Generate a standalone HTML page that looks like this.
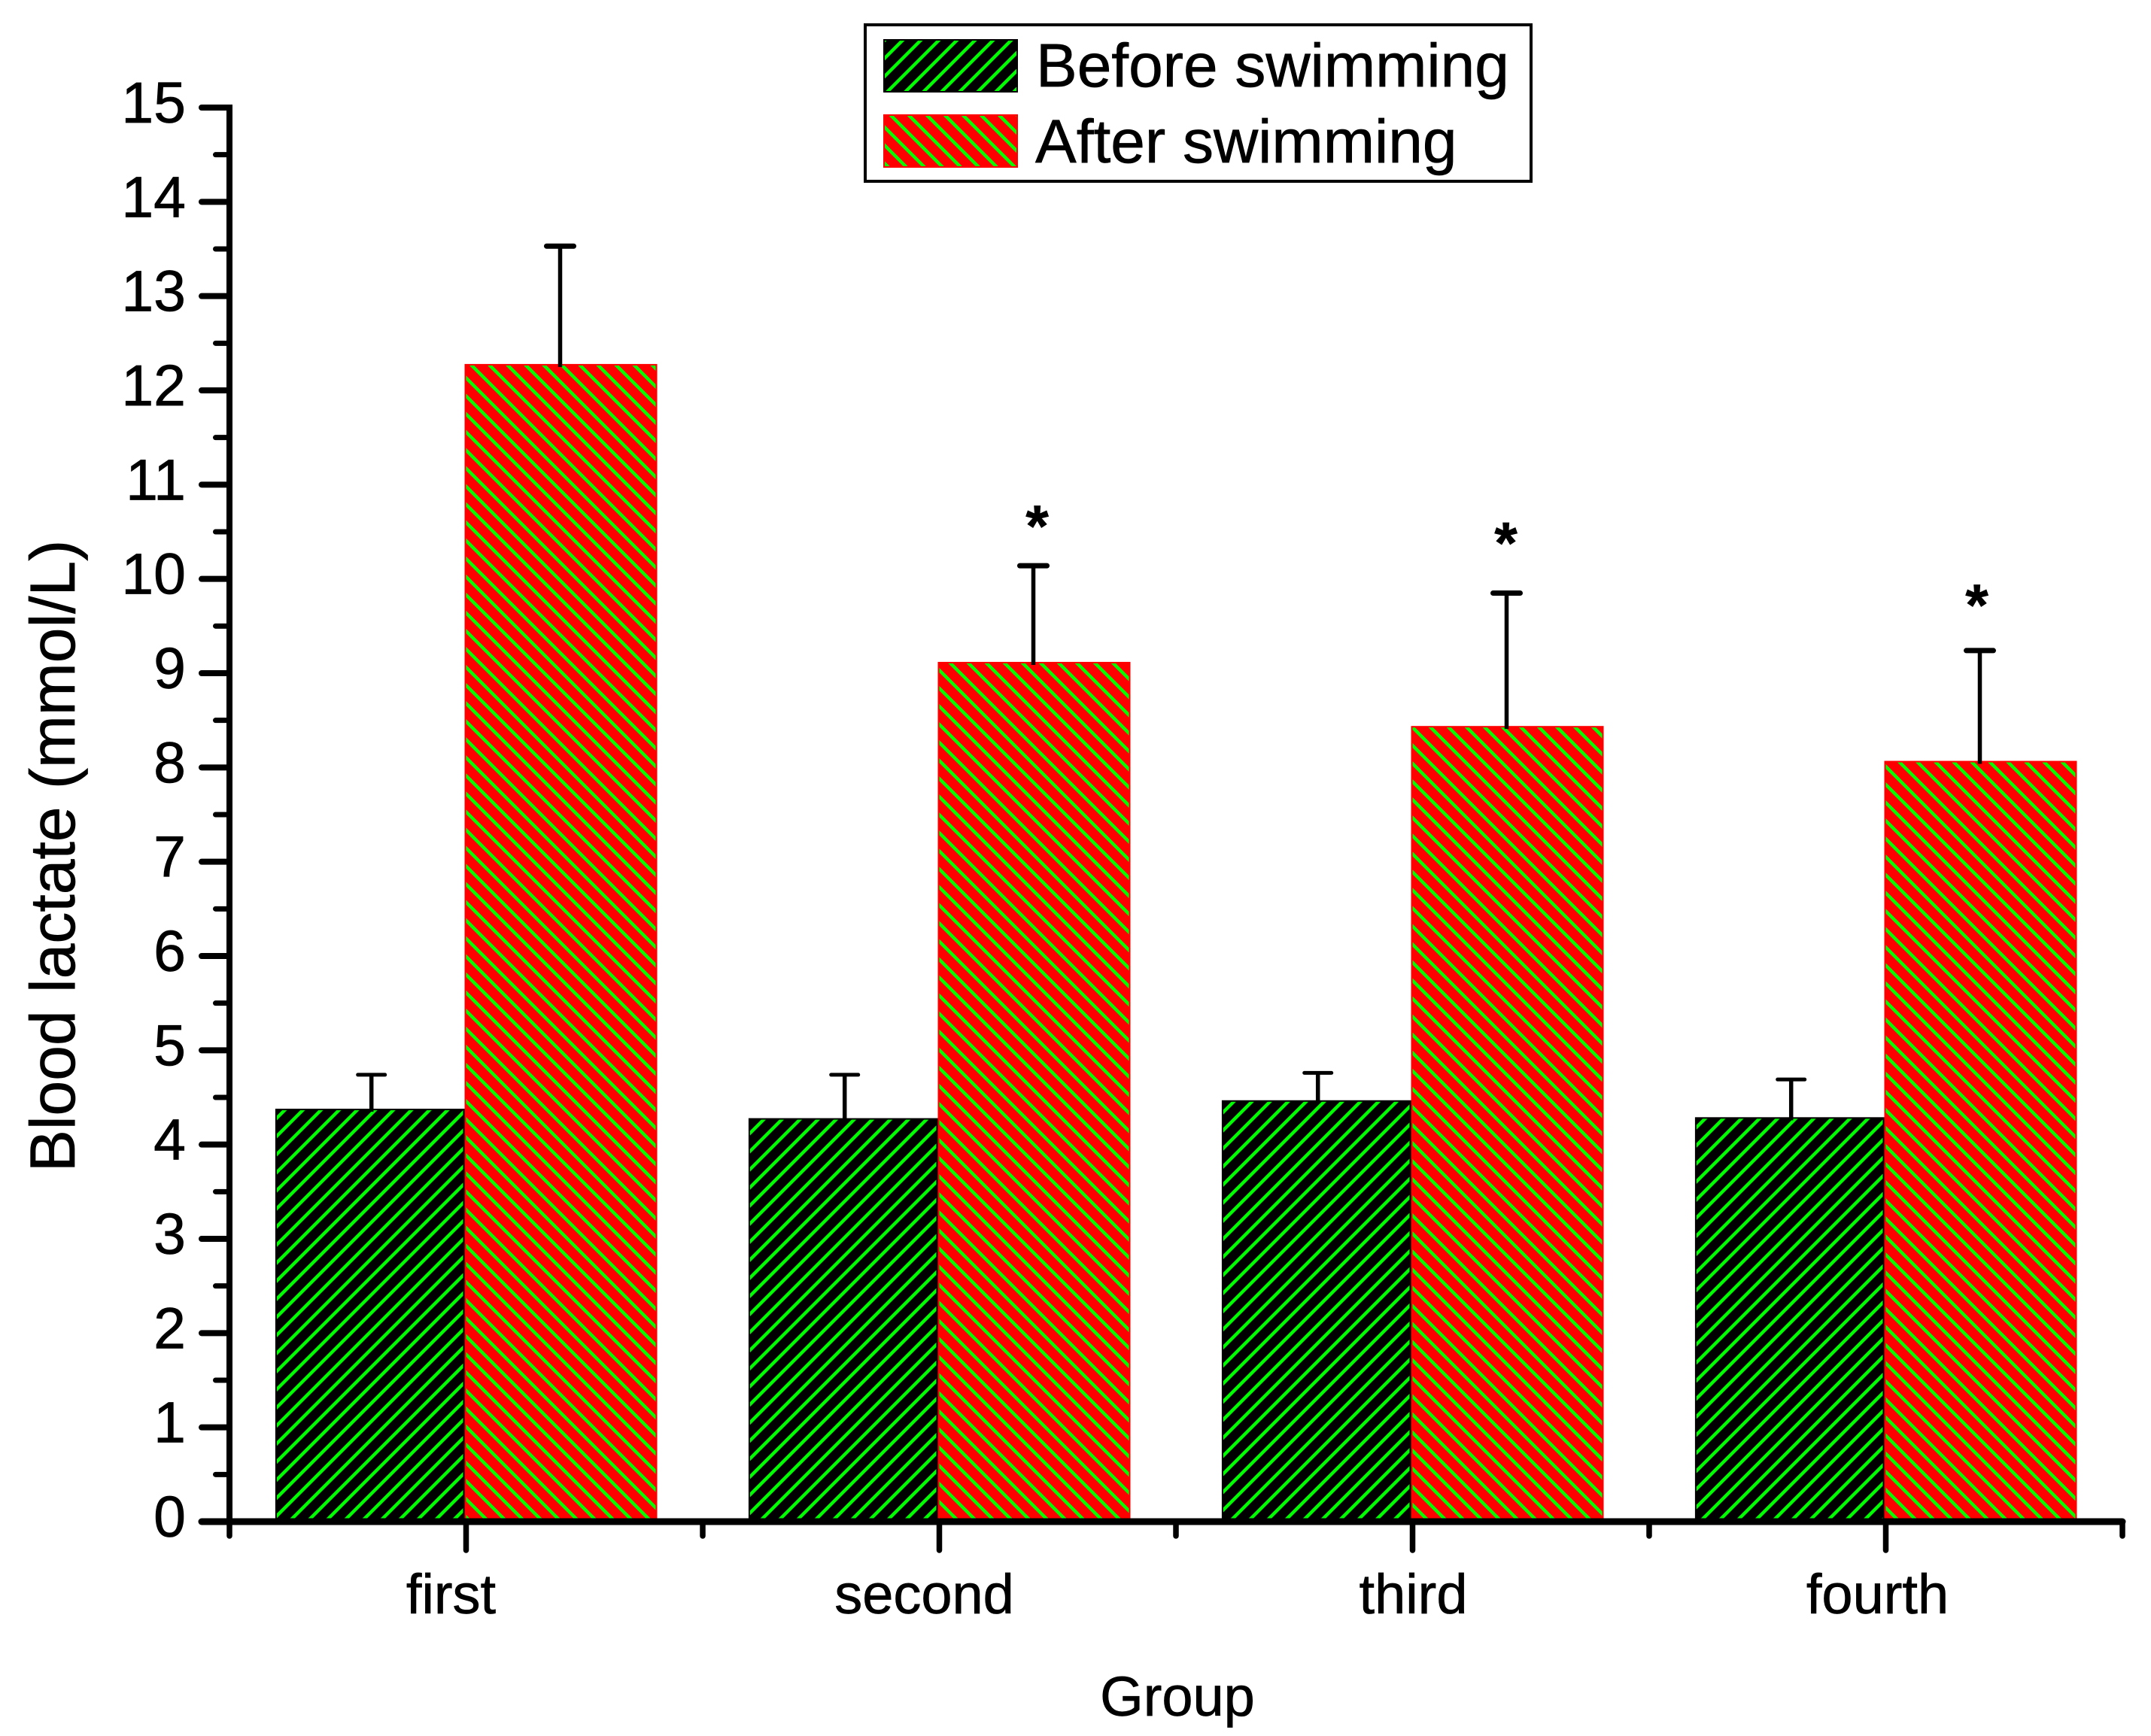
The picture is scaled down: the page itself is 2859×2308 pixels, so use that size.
<!DOCTYPE html>
<html>
<head>
<meta charset="utf-8">
<title>Blood lactate chart</title>
<style>
html,body{margin:0;padding:0;background:#fff;}
svg{display:block;font-family:"Liberation Sans",sans-serif;}
text{stroke:#000;stroke-width:.7px;}
</style>
</head>
<body>
<svg id="chart" xmlns="http://www.w3.org/2000/svg" width="2859" height="2308" viewBox="0 0 2859 2308">
  <defs>
    <pattern id="hatch-before" patternUnits="userSpaceOnUse" width="17" height="17" patternTransform="rotate(-45)">
      <rect width="17" height="17" fill="#000"/>
      <rect x="0" y="0" width="17" height="4.4" fill="#0f0"/>
    </pattern>
    <pattern id="hatch-after" patternUnits="userSpaceOnUse" width="17" height="17" patternTransform="rotate(45)">
      <rect width="17" height="17" fill="#f00"/>
      <rect x="0" y="0" width="17" height="4.4" fill="#0f0"/>
    </pattern>
  </defs>
  <rect width="2859" height="2308" fill="#fff"/>
  <g id="plot"></g>
  <g>
    <rect x="1150" y="33" width="885" height="208" fill="#fff" stroke="#000" stroke-width="4"/>
    <rect x="1174" y="52" width="179" height="71" fill="#000"/>
    <rect x="1176" y="54" width="175" height="67" fill="url(#hatch-before)"/>
    <text x="1377" y="115" font-size="82" fill="#000">Before swimming</text>
    <rect x="1174" y="152" width="179" height="71" fill="#f00"/>
    <rect x="1176" y="154" width="175" height="67" fill="url(#hatch-after)"/>
    <text x="1376" y="216" font-size="82" fill="#000">After swimming</text>
  </g>
  <text transform="translate(99,1138) rotate(-90)" text-anchor="middle" font-size="84" fill="#000">Blood lactate (mmol/L)</text>
  <text x="1565" y="2281" text-anchor="middle" font-size="74" fill="#000">Group</text>
</svg>
<script>
const categories = ["first", "second", "third", "fourth"];
const beforeValues = [4.38, 4.28, 4.47, 4.29];
const beforeErrors = [0.36, 0.46, 0.29, 0.40];
const afterValues = [12.28, 9.12, 8.44, 8.07];
const afterErrors = [1.25, 1.02, 1.41, 1.17];
const significanceLevels = [null, 10.62, 10.44, 9.78];
const yTickLabels = ["0","1","2","3","4","5","6","7","8","9","10","11","12","13","14","15"];

const SVG_NS = "http://www.w3.org/2000/svg";
const plot = document.getElementById("plot");
const axisLeft = 305, axisRight = 2821, axisBottom = 2023, axisTop = 143;
const yMax = 15;
const groupWidth = (axisRight - axisLeft) / categories.length;
const beforeBarWidth = groupWidth * 0.4;
const afterBarWidth = groupWidth * 0.407;
const barSeam = -2;
const hatchInset = 2;

function yScale(v) { return axisBottom - (v / yMax) * (axisBottom - axisTop); }
function groupCenter(i) { return axisLeft + groupWidth * (i + 0.5); }

function make(tag, attrs, parent) {
  const el = document.createElementNS(SVG_NS, tag);
  for (const k in attrs) el.setAttribute(k, attrs[k]);
  (parent || plot).appendChild(el);
  return el;
}

function drawErrorBar(cx, value, err, capWeight, nameStem, nameCap) {
  const stem = make("line", {x1: cx, x2: cx, y1: yScale(value) + 4, y2: yScale(value + err), stroke: "#000", "stroke-width": 5.5});
  
  
  const cap = make("line", {x1: cx - 18, x2: cx + 18, y1: yScale(value + err), y2: yScale(value + err), stroke: "#000", "stroke-width": capWeight, "stroke-linecap": "round"});
  
  
}

function drawBar(x, value, width, baseColor, patternId, nameBar, nameHatch) {
  const top = yScale(value);
  const base = make("rect", {x: x, y: top, width: width, height: axisBottom - top, fill: baseColor});
  
  
  const hatch = make("rect", {x: x + hatchInset, y: top + hatchInset, width: width - 2 * hatchInset, height: axisBottom - top - hatchInset, fill: "url(#" + patternId + ")"});
  
  
}

categories.forEach(function (cat, i) {
  const c = groupCenter(i);
  const seam = c + barSeam;
  drawBar(seam - beforeBarWidth, beforeValues[i], beforeBarWidth, "#000", "hatch-before", 'bar-before-' + cat, 'bar-hatch-before-' + cat);
  drawBar(seam, afterValues[i], afterBarWidth, "#f00", "hatch-after", 'bar-after-' + cat, 'bar-hatch-after-' + cat);
  drawErrorBar(seam - beforeBarWidth / 2 + 2, beforeValues[i], beforeErrors[i], 5, 'error-stem-before-' + cat, 'error-cap-before-' + cat);
  drawErrorBar(seam + afterBarWidth / 2 - 1, afterValues[i], afterErrors[i], 7, 'error-stem-after-' + cat, 'error-cap-after-' + cat);
  if (significanceLevels[i] !== null) {
    const sx = seam + afterBarWidth / 2 + (i === 1 ? 4 : i === 2 ? -2 : -5);
    const s = make("text", {x: sx, y: yScale(significanceLevels[i]) + 34, "text-anchor": "middle", "font-size": 78, "font-weight": "bold", fill: "#000"});
    s.textContent = "*";
    
    
  }
  const lab = make("text", {x: c + (i === 2 ? 1 : i === 3 ? -11 : -20), y: 2145, "text-anchor": "middle", "font-size": 74, fill: "#000"});
  lab.textContent = cat;
  
  
  const tick = make("line", {x1: c, x2: c, y1: axisBottom, y2: axisBottom + 38, stroke: "#000", "stroke-width": 7.5, "stroke-linecap": "round"});
  
  
});

for (let i = 0; i <= categories.length; i++) {
  const x = axisLeft + groupWidth * i;
  const mt = make("line", {x1: x, x2: x, y1: axisBottom, y2: axisBottom + 19, stroke: "#000", "stroke-width": 7.5, "stroke-linecap": "round"});
  
  
}

yTickLabels.forEach(function (label, i) {
  const y = yScale(i);
  const t = make("line", {x1: axisLeft, x2: axisLeft - 37, y1: y, y2: y, stroke: "#000", "stroke-width": 8, "stroke-linecap": "round"});
  
  
  const txt = make("text", {x: 247, y: y + 20, "text-anchor": "end", "font-size": 77, fill: "#000"});
  txt.textContent = label;
  
  
  if (i < yTickLabels.length - 1) {
    const mn = make("line", {x1: axisLeft, x2: axisLeft - 18.5, y1: yScale(i + 0.5), y2: yScale(i + 0.5), stroke: "#000", "stroke-width": 7, "stroke-linecap": "round"});
    
    
  }
});

const yAxis = make("line", {x1: axisLeft, x2: axisLeft, y1: axisTop - 4, y2: axisBottom + 4, stroke: "#000", "stroke-width": 8});


const xAxis = make("line", {x1: axisLeft - 37, x2: axisRight, y1: axisBottom, y2: axisBottom, stroke: "#000", "stroke-width": 9, "stroke-linecap": "round"});


</script>
</body>
</html>
